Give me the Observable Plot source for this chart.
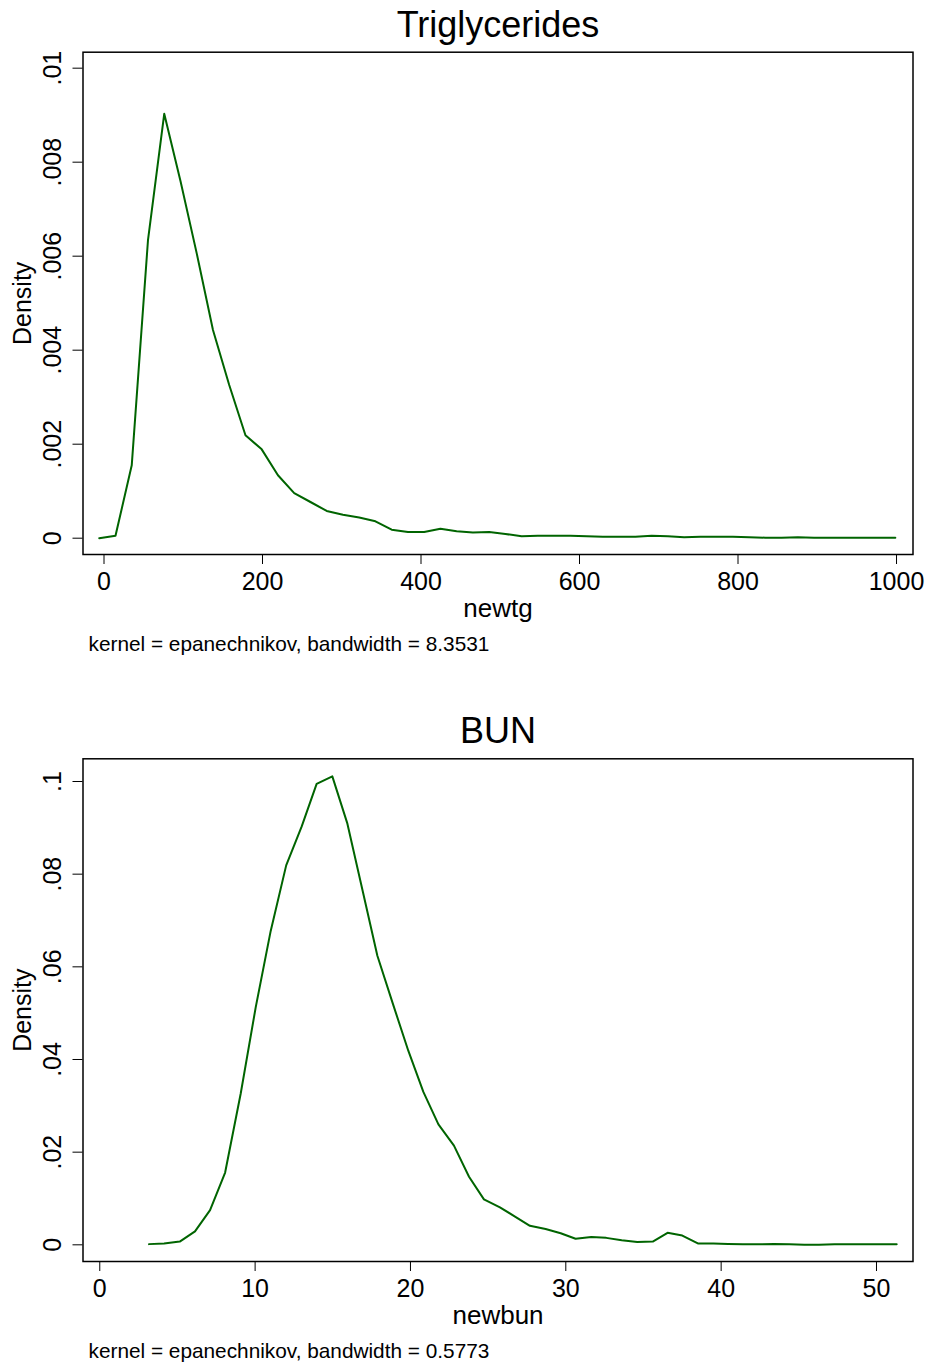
<!DOCTYPE html>
<html><head><meta charset="utf-8">
<script src="https://cdn.jsdelivr.net/npm/d3@7"></script>
<script src="https://cdn.jsdelivr.net/npm/@observablehq/plot@0.6"></script>
<style>body{margin:0;background:#fff;} svg{display:block;}</style>
</head><body><div id="c"></div>
<script>
// ---- Data ----
const tgX = [-6, 14.5, 35, 55.5, 76, 96.5, 117, 137.5, 158, 178.5, 199, 219.5, 240, 260.5, 281, 301.5, 322, 342.5, 363, 383.5, 404, 424.5, 445, 465.5, 486, 506.5, 527, 547.5, 568, 588.5, 609, 629.5, 650, 670.5, 691, 711.5, 732, 752.5, 773, 793.5, 814, 834.5, 855, 875.5, 896, 916.5, 937, 957.5, 978, 998.5];
const tgDensity = [0.0, 0.00005, 0.00155, 0.00634, 0.00903, 0.0076, 0.00606, 0.00443, 0.00326, 0.00219, 0.00189, 0.00134, 0.00096, 0.00077, 0.00058, 0.0005, 0.00044, 0.00036, 0.00018, 0.00013, 0.00013, 0.0002, 0.00015, 0.00012, 0.00013, 0.00009, 0.00004, 0.00005, 0.00005, 0.00005, 0.00004, 0.00003, 0.00003, 0.00003, 0.00005, 0.00004, 0.00002, 0.00003, 0.00003, 0.00003, 0.00002, 0.00001, 0.00001, 0.00002, 0.00001, 0.00001, 0.00001, 0.00001, 0.00001, 0.00001];
const bunX = [3.17, 4.14, 5.15, 6.13, 7.1, 8.07, 9.07, 10.04, 11.0, 12.0, 13.0, 13.96, 14.97, 15.94, 16.95, 17.87, 18.87, 19.86, 20.83, 21.8, 22.8, 23.77, 24.73, 25.76, 26.73, 27.69, 28.7, 29.67, 30.63, 31.64, 32.6, 33.6, 34.6, 35.6, 36.55, 37.5, 38.5, 39.5, 40.45, 41.4, 42.4, 43.4, 44.4, 45.35, 46.3, 47.3, 48.3, 49.3, 50.3, 51.3];
const bunDensity = [0.00015, 0.0003, 0.0007, 0.0029, 0.0075, 0.0156, 0.0326, 0.0513, 0.0677, 0.0819, 0.0903, 0.0995, 0.1011, 0.0909, 0.076, 0.0624, 0.052, 0.0419, 0.033, 0.026, 0.0214, 0.0147, 0.0098, 0.0081, 0.0061, 0.0041, 0.0034, 0.0025, 0.0013, 0.0017, 0.0015, 0.001, 0.0006, 0.0007, 0.0026, 0.002, 0.0003, 0.0003, 0.0002, 0.0001, 0.0001, 0.0002, 0.0001, 0.0, 0.0, 0.0001, 0.0001, 0.0001, 0.0001, 0.0001];

const tgXTicks = [0, 200, 400, 600, 800, 1000];
const tgXLabels = ["0", "200", "400", "600", "800", "1000"];
const tgYTicks = [0, 0.002, 0.004, 0.006, 0.008, 0.01];
const tgYLabels = ["0", ".002", ".004", ".006", ".008", ".01"];
const bunXTicks = [0, 10, 20, 30, 40, 50];
const bunXLabels = ["0", "10", "20", "30", "40", "50"];
const bunYTicks = [0, 0.02, 0.04, 0.06, 0.08, 0.1];
const bunYLabels = ["0", ".02", ".04", ".06", ".08", ".1"];

const FONT = "'Liberation Sans', Arial, Helvetica, sans-serif";
const GREEN = "#006400";

function chart(cfg) {
  const data = cfg.xs.map((x, i) => ({x, y: cfg.ys[i]}));
  return Plot.plot({
    width: 930,
    height: cfg.height,
    marginLeft: 82.5,
    marginRight: 17.5,
    marginTop: cfg.marginTop,
    marginBottom: cfg.marginBottom,
    style: {fontFamily: FONT, background: "#fff", color: "#000"},
    x: {domain: cfg.xDomain},
    y: {domain: cfg.yDomain},
    marks: [
      Plot.frame({stroke: "#000", strokeWidth: 1.5}),
      Plot.axisX({ticks: cfg.xTicks, tickFormat: (d, i) => cfg.xLabels[i], tickSize: 10, tickPadding: 8, fontSize: 25, label: null}),
      Plot.axisY({ticks: cfg.yTicks, tickFormat: (d, i) => cfg.yLabels[i], tickRotate: -90, tickSize: 10, tickPadding: 12, fontSize: 25, label: null}),
      Plot.line(data, {x: "x", y: "y", stroke: GREEN, strokeWidth: 2}),
      Plot.text([cfg.title], {frameAnchor: "top", dy: -15.7, lineAnchor: "bottom", fontSize: 36, fill: "#000"}),
      Plot.text([cfg.xLabel], {frameAnchor: "bottom", dy: 62, lineAnchor: "bottom", fontSize: 26, fill: "#000"}),
      Plot.text(["Density"], {frameAnchor: "left", dx: -60.5, rotate: -90, textAnchor: "middle", fontSize: 25, fill: "#000"}),
      Plot.text([cfg.note], {frameAnchor: "bottom-left", dx: 5.5, dy: 96, lineAnchor: "bottom", textAnchor: "start", fontSize: 20.8, fill: "#000"})
    ]
  });
}

const c = document.getElementById("c");
c.appendChild(chart({
  xs: tgX, ys: tgDensity, height: 680, marginTop: 51.7, marginBottom: 126,
  xDomain: [-26.5, 1020.8], yDomain: [-0.000347, 0.01034],
  xTicks: tgXTicks, xLabels: tgXLabels, yTicks: tgYTicks, yLabels: tgYLabels,
  title: "Triglycerides", xLabel: "newtg", note: "kernel = epanechnikov, bandwidth = 8.3531"
}));
c.appendChild(chart({
  xs: bunX, ys: bunDensity, height: 684, marginTop: 78.3, marginBottom: 103,
  xDomain: [-1.08, 52.35], yDomain: [-0.0036, 0.1049],
  xTicks: bunXTicks, xLabels: bunXLabels, yTicks: bunYTicks, yLabels: bunYLabels,
  title: "BUN", xLabel: "newbun", note: "kernel = epanechnikov, bandwidth = 0.5773"
}));
</script>
</body></html>
